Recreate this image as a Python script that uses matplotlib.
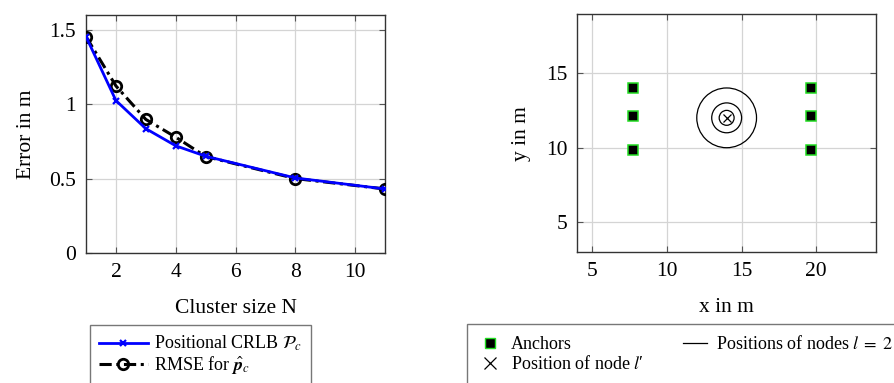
import matplotlib
matplotlib.use("Agg")
import matplotlib.pyplot as plt
from matplotlib.lines import Line2D
from matplotlib.patches import Circle

plt.rcParams["font.family"] = ["Liberation Serif", "DejaVu Serif"]
plt.rcParams["mathtext.fontset"] = "stix"

# Left panel: error versus cluster size
cluster_sizes = [1, 2, 3, 4, 5, 8, 11]
crlb_values = [1.455, 1.026, 0.837, 0.722, 0.652, 0.506, 0.432]
rmse_values = [1.455, 1.124, 0.899, 0.780, 0.650, 0.502, 0.432]
left_xticks = [2, 4, 6, 8, 10]
left_yticks = [0, 0.5, 1, 1.5]
left_yticklabels = ["0", "0.5", "1", "1.5"]

# Right panel: geometry of anchors and nodes
anchor_x = [7.75, 7.75, 7.75, 19.65, 19.65, 19.65]
anchor_y = [14.0, 12.1, 9.85, 14.0, 12.1, 9.85]
node_center = (14.0, 12.0)
node_radii = [0.5, 1.0, 2.0]
right_ticks = [5, 10, 15, 20]

GRID = "#d4d4d4"
SPINE = "#333333"
TICK_FS = 15.5
LABEL_FS = 15.5
LEG_FS = 13

fig = plt.figure(figsize=(8.95, 3.83), dpi=100)


def style_axes(ax):
    ax.grid(True, color=GRID, linewidth=0.9, zorder=0)
    ax.set_axisbelow(True)
    for s in ax.spines.values():
        s.set_color(SPINE)
        s.set_linewidth(1.0)
    ax.tick_params(direction="in", length=4, width=0.8, color="#555555",
                   top=True, right=True, labelsize=TICK_FS, pad=7)


# ---- left axes
ax1 = fig.add_axes([0.0961, 0.3386, 0.3341, 0.6222])
style_axes(ax1)
ax1.plot(cluster_sizes, rmse_values, color="black", linestyle=(0, (4, 1.5, 1, 1.5)),
         linewidth=2.2, marker="o", markersize=7.5, markerfacecolor="none",
         markeredgecolor="black", markeredgewidth=2.0, zorder=3,
         label=r"RMSE for $\hat{\mathbfit{p}}_c$")
ax1.plot(cluster_sizes, crlb_values, color="#0000ff", linewidth=2.0,
         marker="x", markersize=5, markeredgewidth=1.6, zorder=4,
         label=r"Positional CRLB $\mathcal{P}_c$")
ax1.set_xticks(left_xticks)
ax1.set_yticks(left_yticks)
ax1.set_yticklabels(left_yticklabels)
ax1.set_xlim(1, 11)
ax1.set_ylim(0, 1.6)
ax1.set_xlabel("Cluster size N", fontsize=LABEL_FS, labelpad=12)
ax1.set_ylabel("Error in m", fontsize=LABEL_FS, labelpad=9.5)

h1, l1 = ax1.get_legend_handles_labels()
leg1 = fig.legend([h1[1], h1[0]], [l1[1], l1[0]], loc="upper left",
                  bbox_to_anchor=(90 / 895, 1 - 325 / 383), fontsize=LEG_FS,
                  frameon=True, fancybox=False, edgecolor="#555555",
                  handlelength=2.7, handletextpad=0.35, borderpad=0.5,
                  labelspacing=0.05, borderaxespad=0)
leg1.get_frame().set_linewidth(1.0)

# ---- right axes
ax2 = fig.add_axes([0.6450, 0.3413, 0.3338, 0.6221])
style_axes(ax2)
for r in node_radii:
    ax2.add_patch(Circle(node_center, r, fill=False, edgecolor="black",
                         linewidth=0.9, zorder=3))
ax2.plot([node_center[0]], [node_center[1]], linestyle="none", marker="x",
         markersize=6, markeredgewidth=0.9, color="black", zorder=4)
ax2.plot(anchor_x, anchor_y, linestyle="none", marker="s", markersize=7.2,
         markerfacecolor="black", markeredgecolor="#22dd22",
         markeredgewidth=1.1, zorder=5)
ax2.set_xticks(right_ticks)
ax2.set_yticks(right_ticks)
ax2.set_xlim(4, 24)
ax2.set_ylim(3, 18.95)
ax2.set_xlabel("x in m", fontsize=LABEL_FS, labelpad=12)
ax2.set_ylabel("y in m", fontsize=LABEL_FS, labelpad=11)

leg_handles = [
    Line2D([], [], linestyle="none", marker="s", markersize=6.5,
           markerfacecolor="black", markeredgecolor="#22dd22", markeredgewidth=1.0),
    Line2D([], [], linestyle="none", marker="x", markersize=8,
           markeredgewidth=0.9, color="black"),
    Line2D([], [], color="black", linewidth=0.9),
]
leg_labels = ["Anchors", "Position of node $l$\u2032", r"Positions of nodes $l\;=\;2$"]
leg2 = fig.legend(leg_handles, leg_labels, loc="upper left", ncol=2,
                  bbox_to_anchor=(467.5 / 895, 1 - 324 / 383), fontsize=LEG_FS,
                  frameon=True, fancybox=False, edgecolor="#555555",
                  handlelength=1.3, handletextpad=0.5, borderpad=0.62,
                  labelspacing=0.12, columnspacing=2.2, borderaxespad=0)
leg2.get_frame().set_linewidth(1.0)

fig.savefig("out.png", dpi=100)
